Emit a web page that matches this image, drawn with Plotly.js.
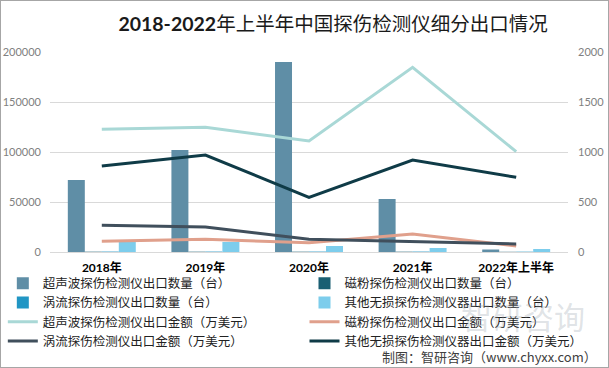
<!DOCTYPE html>
<html>
<head>
<meta charset="utf-8">
<script src="https://cdn.plot.ly/plotly-3.0.1.min.js"></script>
<style>
  html, body { margin: 0; padding: 0; background: #fff; }
  #wrap { width: 609px; height: 368px; box-sizing: border-box; border: 1px solid #a6a6a6; overflow: hidden; }
  #chart { width: 607px; height: 366px; }
</style>
</head>
<body>
<div id="wrap"><div id="chart"></div></div>
<script>
// ---- data ----
const categories = ["2018年", "2019年", "2020年", "2021年", "2022年上半年"];

// export quantity (台), left axis
const ultrasonicQty = [72000, 102000, 190000, 53000, 2500];
const magneticQty   = [300, 300, 300, 300, 200];
const eddyQty       = [400, 400, 400, 400, 300];
const otherQty      = [10000, 10000, 6000, 4000, 3000];

// export amount (万美元), right axis
const ultrasonicAmt = [1227, 1247, 1110, 1847, 1003];
const magneticAmt   = [107, 127, 93, 180, 60];
const eddyAmt       = [267, 250, 127, 103, 80];
const otherAmt      = [860, 970, 547, 920, 747];

const names = [
  "超声波探伤检测仪出口数量（台）",
  "磁粉探伤检测仪出口数量（台）",
  "涡流探伤检测仪出口数量（台）",
  "其他无损探伤检测仪器出口数量（台）",
  "超声波探伤检测仪出口金额（万美元）",
  "磁粉探伤检测仪出口金额（万美元）",
  "涡流探伤检测仪出口金额（万美元）",
  "其他无损探伤检测仪器出口金额（万美元）"
];

const cjk = "Lato, 'Noto Sans CJK SC', sans-serif";

function bar(y, name, color, lg) {
  return { type: "bar", x: categories, y: y, name: name, marker: { color: color }, yaxis: "y", legend: lg };
}
function line(y, name, color, lg) {
  return { type: "scatter", mode: "lines", x: categories, y: y, name: name,
           line: { color: color, width: 3 }, yaxis: "y2", legend: lg };
}

const traces = [
  bar(ultrasonicQty, names[0], "#5f8ea6", "legend"),
  bar(magneticQty,   names[1], "#1a5f73", "legend2"),
  bar(eddyQty,       names[2], "#2196c4", "legend"),
  bar(otherQty,      names[3], "#7dcdec", "legend2"),
  line(ultrasonicAmt, names[4], "#a9d8d6", "legend"),
  line(magneticAmt,   names[5], "#e0a08c", "legend2"),
  line(eddyAmt,       names[6], "#404f5c", "legend"),
  line(otherAmt,      names[7], "#0f3b47", "legend2")
];

const legendTop = 1 - 267.5 / 366;
const legendBase = {
  orientation: "v",
  xref: "container", yref: "container",
  y: legendTop, xanchor: "left", yanchor: "top",
  font: { family: cjk, size: 12.5, color: "#222" },
  itemwidth: 30,
  traceorder: "normal",
  bgcolor: "rgba(0,0,0,0)"
};

const layout = {
  width: 607, height: 366,
  margin: { l: 49, r: 40, t: 51, b: 115, autoexpand: false },
  paper_bgcolor: "#ffffff",
  plot_bgcolor: "#ffffff",
  barmode: "group",
  bargap: 0.344,
  bargroupgap: 0,
  showlegend: true,
  title: {
    text: "<b>2018-2022</b>年上半年中国探伤检测仪细分出口情况",
    font: { family: cjk, size: 19.5, color: "#1a1a1a" },
    x: 0.547, xref: "container", xanchor: "center",
    y: 0.937, yref: "container", yanchor: "middle"
  },
  xaxis: {
    type: "category",
    tickfont: { family: cjk, size: 12, color: "#000", weight: "bold" },
    showgrid: false, zeroline: false, showline: false,
    ticks: "", ticklabelstandoff: 7
  },
  yaxis: {
    range: [0, 200000], dtick: 50000, tickformat: "d",
    tickfont: { family: cjk, size: 11, color: "#808080" },
    gridcolor: "#d9d9d9", gridwidth: 1,
    zeroline: true, zerolinecolor: "#d9d9d9", zerolinewidth: 1,
    showline: false, ticks: "", ticklabelstandoff: 8
  },
  yaxis2: {
    overlaying: "y", side: "right",
    range: [0, 2000], dtick: 500, tickformat: "d",
    tickfont: { family: cjk, size: 11, color: "#808080" },
    showgrid: false, zeroline: false, showline: false,
    ticks: "", ticklabelstandoff: 9
  },
  legend: Object.assign({}, legendBase, { x: 0.003 }),
  legend2: Object.assign({}, legendBase, { x: 0.5 }),
  annotations: [
    {
      text: "智研咨询", xref: "paper", yref: "paper",
      x: (522 - 49) / 518, y: (251 - 314) / 200, xanchor: "center", yanchor: "middle",
      showarrow: false,
      font: { family: "'Noto Sans CJK SC', sans-serif", size: 31, color: "rgba(150,160,170,0.3)" }
    },
    {
      text: "制图：智研咨询（www.chyxx.com）", xref: "paper", yref: "paper",
      x: (598 - 49) / 518, y: (251 - 355.5) / 200, xanchor: "right", yanchor: "middle",
      showarrow: false,
      font: { family: "'Noto Sans CJK SC', sans-serif", size: 13, color: "#404040" }
    }
  ]
};

Plotly.newPlot("chart", traces, layout, { displayModeBar: false, staticPlot: true });
</script>
</body>
</html>
